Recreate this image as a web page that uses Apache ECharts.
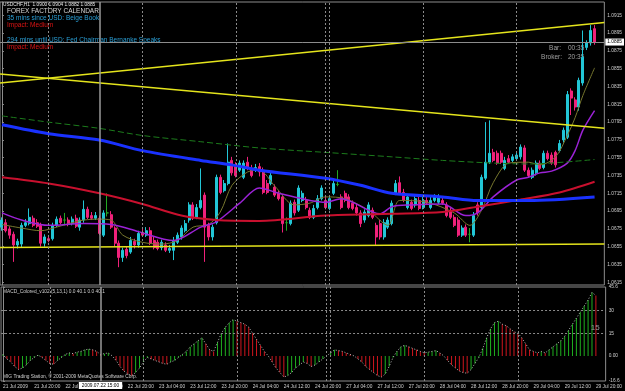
<!DOCTYPE html>
<html>
<head>
<meta charset="utf-8">
<script src="https://cdn.jsdelivr.net/npm/echarts@6/dist/echarts.min.js"></script>
<style>
    html, body { margin: 0; padding: 0; background: #000; }
    #container { width: 625px; height: 391px; }
</style>
</head>
<body>
<div id="container"></div>
<script type="text/javascript">
    // trading sessions (H1 bars), USDCHF
    var dayNames = ['21 Jul', '22 Jul', '23 Jul', '24 Jul', '27 Jul', '28 Jul', '29 Jul'];
    var dayFirstHour = [12, 0, 0, 0, 0, 0, 0];
    var dayLastHour = [23, 23, 23, 23, 23, 23, 20];

    var open = [
        1.0677,1.0682,1.0675,1.0669,1.0657,1.0658,1.0679,1.0681,1.0687,1.0682,
        1.0679,1.0659,1.0664,1.0664,1.0679,1.0687,1.0685,1.0685,1.0681,1.0687,
        1.0677,1.0685,1.0697,1.0690,1.0687,1.0687,1.0668,1.0693,1.0691,1.0676,
        1.0659,1.0643,1.0652,1.0649,1.0661,1.0657,1.0671,1.0668,1.0673,1.0662,
        1.0660,1.0654,1.0657,1.0651,1.0651,1.0660,1.0666,1.0673,1.0685,1.0702,
        1.0688,1.0699,1.0713,1.0679,1.0666,1.0682,1.0733,1.0718,1.0726,1.0752,
        1.0747,1.0741,1.0733,1.0750,1.0743,1.0741,1.0745,1.0741,1.0726,1.0726,
        1.0722,1.0715,1.0711,1.0682,1.0681,1.0705,1.0696,1.0707,1.0707,1.0696,
        1.0688,1.0699,1.0709,1.0707,1.0698,1.0715,1.0725,1.0711,1.0715,1.0711,
        1.0704,1.0699,1.0693,1.0685,1.0690,1.0696,1.0679,1.0681,1.0666,1.0677,
        1.0681,1.0715,1.0727,1.0716,1.0699,1.0705,1.0702,1.0707,1.0699,1.0707,
        1.0699,1.0707,1.0705,1.0707,1.0702,1.0696,1.0688,1.0685,1.0668,1.0677,
        1.0669,1.0668,1.0702,1.0699,1.0732,1.0750,1.0761,1.0760,1.0760,1.0743,
        1.0754,1.0752,1.0754,1.0756,1.0766,1.0741,1.0733,1.0738,1.0749,1.0744,
        1.0760,1.0758,1.0761,1.0763,1.0775,1.0778,1.0830,1.0820,1.0812,1.0839,
        1.0879,1.0884,1.0900
    ];
    var high = [
        1.0688,1.0686,1.0678,1.0672,1.0664,1.0682,1.0686,1.0698,1.0690,1.0686,
        1.0682,1.0669,1.0668,1.0682,1.0689,1.0690,1.0693,1.0688,1.0689,1.0691,
        1.0688,1.0707,1.0700,1.0694,1.0694,1.0690,1.0696,1.0715,1.0695,1.0678,
        1.0662,1.0654,1.0655,1.0666,1.0664,1.0673,1.0675,1.0677,1.0677,1.0666,
        1.0663,1.0663,1.0660,1.0657,1.0666,1.0671,1.0679,1.0685,1.0705,1.0705,
        1.0703,1.0743,1.0716,1.0682,1.0680,1.0736,1.0736,1.0730,1.0771,1.0756,
        1.0750,1.0752,1.0752,1.0756,1.0747,1.0748,1.0749,1.0744,1.0730,1.0738,
        1.0725,1.0718,1.0714,1.0688,1.0707,1.0708,1.0724,1.0718,1.0711,1.0699,
        1.0702,1.0713,1.0724,1.0711,1.0713,1.0730,1.0741,1.0714,1.0718,1.0714,
        1.0707,1.0703,1.0696,1.0697,1.0705,1.0699,1.0682,1.0685,1.0686,1.0688,
        1.0707,1.0730,1.0734,1.0720,1.0714,1.0708,1.0713,1.0711,1.0711,1.0711,
        1.0711,1.0714,1.0714,1.0711,1.0705,1.0699,1.0691,1.0688,1.0679,1.0680,
        1.0676,1.0694,1.0705,1.0736,1.0795,1.0797,1.0765,1.0763,1.0763,1.0756,
        1.0758,1.0759,1.0761,1.0770,1.0769,1.0744,1.0744,1.0752,1.0752,1.0763,
        1.0763,1.0761,1.0763,1.0775,1.0789,1.0830,1.0833,1.0823,1.0845,1.0898,
        1.0887,1.0904,1.0904
    ];
    var low = [
        1.0673,1.0671,1.0664,1.0638,1.0653,1.0654,1.0677,1.0679,1.0677,1.0676,
        1.0655,1.0655,1.0660,1.0662,1.0677,1.0680,1.0679,1.0678,1.0679,1.0676,
        1.0673,1.0682,1.0686,1.0685,1.0685,1.0668,1.0666,1.0689,1.0675,1.0655,
        1.0632,1.0638,1.0642,1.0647,1.0653,1.0654,1.0666,1.0666,1.0657,1.0652,
        1.0651,1.0651,1.0649,1.0648,1.0640,1.0658,1.0663,1.0671,1.0682,1.0685,
        1.0686,1.0697,1.0638,1.0662,1.0662,1.0680,1.0714,1.0716,1.0724,1.0735,
        1.0733,1.0739,1.0731,1.0741,1.0733,1.0739,1.0734,1.0714,1.0714,1.0724,
        1.0711,1.0707,1.0671,1.0673,1.0679,1.0690,1.0694,1.0705,1.0697,1.0686,
        1.0686,1.0697,1.0707,1.0697,1.0696,1.0713,1.0723,1.0697,1.0705,1.0697,
        1.0696,1.0690,1.0677,1.0682,1.0688,1.0686,1.0657,1.0663,1.0663,1.0675,
        1.0679,1.0713,1.0713,1.0705,1.0697,1.0696,1.0699,1.0696,1.0697,1.0702,
        1.0697,1.0705,1.0703,1.0702,1.0688,1.0686,1.0677,1.0666,1.0666,1.0666,
        1.0660,1.0666,1.0690,1.0697,1.0730,1.0748,1.0750,1.0747,1.0748,1.0741,
        1.0748,1.0750,1.0752,1.0753,1.0739,1.0733,1.0731,1.0735,1.0741,1.0742,
        1.0752,1.0747,1.0744,1.0761,1.0772,1.0776,1.0803,1.0808,1.0808,1.0836,
        1.0876,1.0881,1.0882
    ];
    var close = [
        1.0685,1.0673,1.0668,1.0657,1.0661,1.0679,1.0682,1.0688,1.0679,1.0678,
        1.0659,1.0666,1.0662,1.0679,1.0686,1.0682,1.0685,1.0680,1.0686,1.0678,
        1.0685,1.0697,1.0688,1.0687,1.0690,1.0670,1.0693,1.0693,1.0677,1.0659,
        1.0643,1.0651,1.0645,1.0662,1.0657,1.0670,1.0668,1.0673,1.0659,1.0654,
        1.0653,1.0660,1.0651,1.0653,1.0662,1.0668,1.0676,1.0681,1.0702,1.0687,
        1.0699,1.0707,1.0677,1.0666,1.0677,1.0733,1.0716,1.0726,1.0750,1.0738,
        1.0735,1.0749,1.0749,1.0743,1.0735,1.0744,1.0739,1.0716,1.0716,1.0735,
        1.0713,1.0709,1.0681,1.0682,1.0704,1.0693,1.0721,1.0715,1.0699,1.0688,
        1.0698,1.0709,1.0721,1.0699,1.0709,1.0726,1.0725,1.0699,1.0707,1.0699,
        1.0698,1.0693,1.0681,1.0694,1.0702,1.0688,1.0666,1.0666,1.0682,1.0685,
        1.0704,1.0726,1.0715,1.0707,1.0711,1.0698,1.0709,1.0698,1.0707,1.0704,
        1.0707,1.0711,1.0711,1.0704,1.0690,1.0688,1.0679,1.0668,1.0676,1.0668,
        1.0669,1.0690,1.0693,1.0733,1.0750,1.0760,1.0752,1.0749,1.0750,1.0752,
        1.0750,1.0756,1.0758,1.0767,1.0741,1.0735,1.0741,1.0749,1.0743,1.0760,
        1.0754,1.0749,1.0747,1.0771,1.0786,1.0826,1.0822,1.0812,1.0842,1.0868,
        1.0884,1.0898,1.0885
    ];

    // moving averages: [bar, price]
    var maBlue = [[0,1.0792],[12,1.0782],[25,1.0775],[36,1.0763],[51,1.0752],[59,1.0747],[66,1.0741],[83,1.0732],[92,1.0724],[100,1.0715],[113,1.0711],[122,1.0707],[135,1.0707],[152,1.0711]];
    var maGreen = [[0,1.0802],[12,1.0795],[25,1.0788],[36,1.0780],[51,1.0773],[66,1.0766],[83,1.0761],[100,1.0756],[113,1.0752],[126,1.0749],[135,1.0748],[152,1.0753]];
    var maRed = [[0,1.0733],[12,1.0726],[25,1.0715],[36,1.0703],[46,1.0690],[55,1.0685],[66,1.0684],[83,1.0690],[100,1.0692],[113,1.0694],[122,1.0700],[133,1.0708],[143,1.0716],[152,1.0728]];
    var maPurple = [[0,1.0693],[5,1.0685],[12,1.0679],[21,1.0681],[28,1.0680],[35,1.0672],[44,1.0662],[51,1.0677],[55,1.0683],[61,1.0704],[66,1.0721],[71,1.0715],[75,1.0711],[79,1.0707],[83,1.0705],[87,1.0709],[97,1.0692],[100,1.0700],[105,1.0702],[113,1.0703],[119,1.0690],[122,1.0693],[126,1.0711],[132,1.0730],[135,1.0733],[138,1.0738],[141,1.0740],[145,1.0749],[147,1.0763],[149,1.0786],[152,1.0808]];
    var maOlive = [[0,1.0680],[5,1.0676],[10,1.0673],[14,1.0677],[18,1.0682],[21,1.0685],[25,1.0686],[28,1.0685],[31,1.0668],[36,1.0660],[41,1.0658],[45,1.0662],[49,1.0677],[53,1.0680],[56,1.0694],[59,1.0724],[63,1.0739],[66,1.0741],[70,1.0723],[75,1.0702],[79,1.0704],[83,1.0711],[88,1.0709],[94,1.0696],[99,1.0679],[102,1.0707],[109,1.0705],[116,1.0693],[120,1.0679],[123,1.0696],[126,1.0727],[130,1.0749],[135,1.0750],[138,1.0747],[142,1.0756],[145,1.0780],[147,1.0800],[149,1.0825],[152,1.0856]];

    // trend lines [bar, price]
    var trendUp = [[-0.5,1.0839],[154.5,1.0907]];
    var trendDown = [[-0.5,1.0849],[154.5,1.0788]];
    var support = [[-0.5,1.0654],[154.5,1.0658]];

    var priceTicks = [1.0615,1.0635,1.0655,1.0675,1.0695,1.0715,1.0735,1.0755,1.0775,1.0795,1.0815,1.0835,1.0855,1.0875,1.0895,1.0915];
    var macdTicks = [-16.6, 0, 15, 30, 45.6];
    var lastPrice = 1.0885;
    var daySeparators = [12, 36, 60, 83, 84, 108, 132];
    var markerBar = 25;

    var macd = [
        1,-2,-4,-7,-9,-8,-6,-3,-1,0.5,
        -1,-3,-5,-5.5,-3,-1,1,2,1.5,2.5,
        3,4,4.5,4,3,1,1.5,2,0,-3,
        -7,-10,-12,-13,-11,-8,-4,-1,-2,-3,
        -4,-5,-5.5,-4,-3,-1,1,3,6,8,
        10,12,8,4,3,9,15,19,22,24,
        23,22,21,19,15,11,7,3,0,-4,
        -8,-11,-14,-13,-11,-8,-6,-4,-5,-7,
        -6,-4,-2,0,2,4,3.5,3,2,1,
        0,-2,-4,-7,-9,-11,-13,-14,-12,-7,
        -1,3,6,7,6,5,4,3,2,2.5,
        3,3.5,2,0,-3,-6,-8,-10,-11,-11.5,
        -9,-5,-1,5,12,18,22,23,21,20,
        18,16,15,12,8,4,3,2,3,2,
        4,6,8,10,13,17,21,25,29,33,
        37,42,40
    ];

    var cats = [];
    for (var d = 0; d < dayNames.length; d++) {
        for (var h = dayFirstHour[d]; h <= dayLastHour[d]; h++) {
            cats.push(dayNames[d] + ' ' + (h < 10 ? '0' + h : h) + ':00');
        }
    }
    cats.push('');
    cats.push(' ');

    var bull = '#22c6d6', bear = '#f0217a', doji = '#22a822';
    var candles = [];
    for (var i = 0; i < open.length; i++) {
        var item = {value: [open[i], close[i], low[i], high[i]]};
        if (open[i] === close[i]) {
            item.itemStyle = {color: doji, color0: doji, borderColor: doji, borderColor0: doji};
        }
        candles.push(item);
    }

    var macdBars = [];
    for (var i = 0; i < macd.length; i++) {
        var up = i === 0 ? true : macd[i] > macd[i - 1];
        macdBars.push({value: macd[i], itemStyle: {color: up ? '#1fb01f' : '#d0161e'}});
    }
    var macdPoints = macd.map(function (v, i) { return [i, v]; });

    var font = 'Liberation Sans';
    var small = 4.8;

    function sepLines() {
        var list = daySeparators.map(function (b) {
            return {xAxis: b, lineStyle: {color: '#8a8a8a', type: [2, 2], width: 1}};
        });
        list.push({xAxis: markerBar, lineStyle: {color: '#9a9a9a', type: 'solid', width: 1.5}});
        return list;
    }

    var dom = document.getElementById('container');
    var myChart = echarts.init(dom, null, {renderer: 'canvas'});

    var option = {
        backgroundColor: '#000',
        animation: false,
        textStyle: {fontFamily: font},
        grid: [
            {left: 0, width: 606, top: 2, height: 283, show: true, borderColor: '#8c8c8c', borderWidth: 1, backgroundColor: 'transparent'},
            {left: 0, width: 606, top: 287, height: 94, show: true, borderColor: '#8c8c8c', borderWidth: 1, backgroundColor: 'transparent'}
        ],
        xAxis: [
            {type: 'category', gridIndex: 0, data: cats, show: false},
            {type: 'value', gridIndex: 0, min: -0.5, max: 154.5, show: false},
            {
                type: 'category', gridIndex: 1, data: cats,
                axisLine: {show: false}, axisTick: {show: false}, splitLine: {show: false},
                axisLabel: {
                    color: '#cfcfcf', fontSize: small, fontFamily: font, margin: 3, align: 'left',
                    interval: function (index) { return index % 8 === 0 && index < open.length; },
                    formatter: function (value, index) { return index === 0 ? '21 Jul 2009' : value; }
                }
            },
            {type: 'value', gridIndex: 1, min: -0.5, max: 154.5, show: false}
        ],
        yAxis: [
            {
                type: 'value', gridIndex: 0, position: 'right', min: 1.0612, max: 1.0930,
                splitLine: {show: false},
                axisLine: {show: true, lineStyle: {color: '#8c8c8c'}},
                axisTick: {show: true, length: 2, customValues: priceTicks, lineStyle: {color: '#8c8c8c'}},
                axisLabel: {
                    customValues: priceTicks, color: '#cfcfcf', fontSize: small, fontFamily: font, margin: 3,
                    formatter: function (v) { return v.toFixed(4); }
                }
            },
            {
                type: 'value', gridIndex: 1, position: 'right', min: -16.6, max: 45.6,
                splitLine: {show: false},
                axisLine: {show: true, lineStyle: {color: '#8c8c8c'}},
                axisTick: {show: true, length: 2, customValues: macdTicks, lineStyle: {color: '#8c8c8c'}},
                axisLabel: {
                    customValues: macdTicks, color: '#cfcfcf', fontSize: small, fontFamily: font, margin: 3,
                    formatter: function (v) { return v === 0 ? '0.00' : String(v); }
                }
            }
        ],
        series: [
            {
                name: 'USDCHF,H1', type: 'candlestick', xAxisIndex: 0, yAxisIndex: 0,
                barWidth: 2.5, data: candles,
                itemStyle: {color: bull, color0: bear, borderColor: bull, borderColor0: bear, borderWidth: 1}
            },
            {type: 'line', xAxisIndex: 1, yAxisIndex: 0, data: maOlive, smooth: 0.3, showSymbol: false, lineStyle: {color: '#77772e', width: 1}},
            {type: 'line', xAxisIndex: 1, yAxisIndex: 0, data: maPurple, smooth: 0.3, showSymbol: false, lineStyle: {color: '#9b22d6', width: 1.5}},
            {type: 'line', xAxisIndex: 1, yAxisIndex: 0, data: maRed, smooth: 0.3, showSymbol: false, lineStyle: {color: '#c8102e', width: 2}},
            {type: 'line', xAxisIndex: 1, yAxisIndex: 0, data: maGreen, smooth: 0.3, showSymbol: false, lineStyle: {color: '#1c7c1c', width: 1, type: [6, 3]}},
            {type: 'line', xAxisIndex: 1, yAxisIndex: 0, data: maBlue, smooth: 0.3, showSymbol: false, lineStyle: {color: '#1a32ff', width: 3}},
            {
                type: 'line', xAxisIndex: 1, yAxisIndex: 0, data: trendUp, showSymbol: false,
                lineStyle: {color: '#e4e41c', width: 1.5},
                markLine: {silent: true, symbol: ['none', 'none'], label: {show: false}, data: sepLines()}
            },
            {type: 'line', xAxisIndex: 1, yAxisIndex: 0, data: trendDown, showSymbol: false, lineStyle: {color: '#e4e41c', width: 1.5}},
            {
                type: 'line', xAxisIndex: 1, yAxisIndex: 0, data: support, showSymbol: false,
                lineStyle: {color: '#e4e41c', width: 1.5},
                markLine: {
                    silent: true, symbol: ['none', 'none'], precision: 4, label: {show: false},
                    data: [{
                        yAxis: lastPrice,
                        lineStyle: {color: '#8c8c8c', type: 'solid', width: 1},
                        label: {
                            show: true, position: 'end', distance: 1, formatter: lastPrice.toFixed(4),
                            backgroundColor: '#fff', color: '#000', fontSize: small, padding: [1, 2], fontFamily: font
                        }
                    }]
                }
            },
            {
                name: 'MACD', type: 'bar', xAxisIndex: 2, yAxisIndex: 1, barWidth: 1, data: macdBars
            },
            {
                type: 'line', xAxisIndex: 3, yAxisIndex: 1, data: macdPoints, showSymbol: false,
                lineStyle: {color: '#bdbdbd', width: 1, type: [1, 2]},
                markLine: {
                    silent: true, symbol: ['none', 'none'], precision: 2, label: {show: false},
                    data: sepLines().map(function (m) {
                        if (m.xAxis === markerBar) {
                            m.label = {
                                show: true, position: 'start', distance: 1, formatter: '2009.07.22 15:00',
                                backgroundColor: '#fff', color: '#000', fontSize: small, padding: [1, 3], fontFamily: font
                            };
                        }
                        return m;
                    }).concat([
                        {yAxis: 30, lineStyle: {color: '#8a8a8a', type: [2, 2], width: 1}},
                        {
                            yAxis: 15, lineStyle: {color: '#8a8a8a', type: [2, 2], width: 1},
                            label: {show: true, position: 'insideEndTop', formatter: '15', color: '#9a9a9a', fontSize: 8, distance: [6, 1]}
                        }
                    ])
                }
            }
        ],
        graphic: [
            {type: 'text', left: 3, top: 2, style: {text: 'USDCHF,H1  1.0900 1.0904 1.0882 1.0885', fill: '#e6e6e6', font: small + 'px ' + font}},
            {type: 'text', left: 7, top: 8, style: {text: 'FOREX FACTORY CALENDAR', fill: '#d6d6d6', font: '6.5px ' + font}},
            {type: 'text', left: 7, top: 15, style: {text: '35 mins since USD: Beige Book', fill: '#2a9fd6', font: '6.5px ' + font}},
            {type: 'text', left: 7, top: 21.5, style: {text: 'Impact: Medium', fill: '#e01414', font: '6.5px ' + font}},
            {type: 'text', left: 7, top: 37, style: {text: '294 mins until USD: Fed Chairman Bernanke Speaks', fill: '#2a9fd6', font: '6.5px ' + font}},
            {type: 'text', left: 7, top: 43.5, style: {text: 'Impact: Medium', fill: '#e01414', font: '6.5px ' + font}},
            {type: 'text', right: 64, top: 45, style: {text: 'Bar:', fill: '#a0a0a0', font: '6.5px ' + font}},
            {type: 'text', left: 568, top: 45, style: {text: '00:35', fill: '#a0a0a0', font: '6.5px ' + font}},
            {type: 'text', right: 63, top: 54, style: {text: 'Broker:', fill: '#a0a0a0', font: '6.5px ' + font}},
            {type: 'text', left: 568, top: 54, style: {text: '20:35', fill: '#a0a0a0', font: '6.5px ' + font}},
            {type: 'text', left: 3, top: 289, style: {text: 'MACD_Colored_v102 (5,13,1) 0.0 40.1 0.0 40.1', fill: '#cfcfcf', font: small + 'px ' + font}},
            {type: 'text', left: 3, top: 374, style: {text: 'MIG Trading Station, \u00a9 2001-2009 MetaQuotes Software Corp.', fill: '#cfcfcf', font: small + 'px ' + font}}
        ]
    };

    if (option && typeof option === 'object') {
        myChart.setOption(option, true);
    }
</script>
</body>
</html>
